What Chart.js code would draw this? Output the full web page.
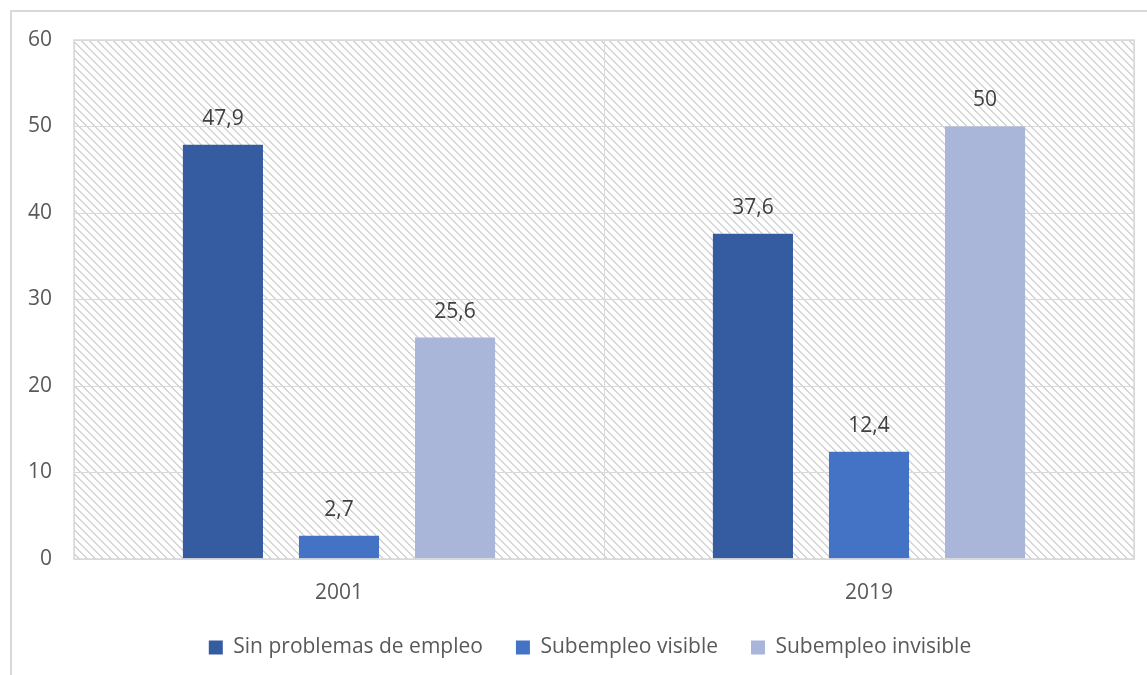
<!DOCTYPE html>
<html>
<head>
<meta charset="utf-8">
<script src="https://cdn.jsdelivr.net/npm/chart.js@4"></script>
<style>
  html, body { margin: 0; padding: 0; background: #fff; }
  #wrap { position: relative; width: 1147px; height: 675px; }
</style>
</head>
<body>
<div id="wrap"><canvas id="c" width="1147" height="675"></canvas></div>
<script>
const categories = ['2001', '2019'];
const seriesNames = ['Sin problemas de empleo', 'Subempleo visible', 'Subempleo invisible'];
const sinProblemas = [47.9, 37.6];
const subVisible = [2.7, 12.4];
const subInvisible = [25.6, 50];
const yTicks = [0, 10, 20, 30, 40, 50, 60];

const colors = ['#355BA0', '#4472C4', '#A9B5D9'];
const FONT = '"Open Sans", Lato, sans-serif';
const FS = 21;

function makePattern(ctx) {
  const p = document.createElement('canvas');
  p.width = 8; p.height = 8;
  const pc = p.getContext('2d');
  pc.fillStyle = '#ffffff';
  pc.fillRect(0, 0, 8, 8);
  pc.fillStyle = '#d4d4d4';
  for (let i = 0; i < 8; i++) {
    pc.fillRect(i, i, 1, 1);
    pc.fillRect((i + 1) % 8, i, 1, 1);
  }
  return ctx.createPattern(p, 'repeat');
}

const bgPlugin = {
  id: 'bg',
  afterLayout(chart) {
    if (chart.legend) {
      chart.legend.left = 46;
      if (chart.legend.adjustHitBoxes) chart.legend.adjustHitBoxes();
    }
  },
  beforeDraw(chart) {
    const ctx = chart.ctx;
    const a = chart.chartArea;
    ctx.save();
    ctx.fillStyle = '#d9d9d9';
    ctx.fillRect(10, 10, 2, chart.height - 10);
    ctx.fillRect(10, 10, chart.width - 10, 2);
    ctx.fillStyle = makePattern(ctx);
    ctx.fillRect(a.left, a.top, a.right - a.left, a.bottom - a.top);
    ctx.restore();
  },
  afterDraw(chart) {
    const ctx = chart.ctx;
    const a = chart.chartArea;
    ctx.save();
    ctx.strokeStyle = '#d9d9d9';
    ctx.lineWidth = 1.5;
    ctx.strokeRect(a.left, a.top, a.right - a.left, a.bottom - a.top);
    ctx.restore();
  }
};

const labelPlugin = {
  id: 'vals',
  afterDatasetsDraw(chart) {
    const ctx = chart.ctx;
    ctx.save();
    ctx.font = FS + 'px ' + FONT;
    ctx.fillStyle = '#404040';
    ctx.textAlign = 'center';
    ctx.textBaseline = 'middle';
    chart.data.datasets.forEach((ds, di) => {
      const meta = chart.getDatasetMeta(di);
      meta.data.forEach((bar, i) => {
        const txt = String(ds.data[i]).replace('.', ',');
        ctx.fillText(txt, bar.x, bar.y - 26);
      });
    });
    ctx.restore();
  }
};

const datasets = [sinProblemas, subVisible, subInvisible].map((d, i) => ({
  label: seriesNames[i],
  data: d,
  backgroundColor: colors[i],
  borderWidth: 0,
  categoryPercentage: 0.657,
  barPercentage: 0.69
}));

new Chart(document.getElementById('c'), {
  type: 'bar',
  data: { labels: categories, datasets },
  options: {
    responsive: false,
    animation: false,
    devicePixelRatio: 1,
    layout: { padding: { left: 0, right: 13, top: 40, bottom: 7 } },
    plugins: {
      tooltip: { enabled: false },
      legend: {
        position: 'bottom',
        labels: {
          boxWidth: 14, boxHeight: 14, padding: 33,
          color: '#595959',
          font: { family: FONT, size: FS }
        }
      }
    },
    scales: {
      x: {
        grid: { color: '#d9d9d9', lineWidth: 1, drawTicks: false, offset: true },
        border: { display: false },
        ticks: { color: '#595959', padding: 21, font: { family: FONT, size: FS } },
        afterFit(s) { s.height = 45; }
      },
      y: {
        min: 0, max: 60,
        afterBuildTicks(s) { s.ticks = yTicks.map(v => ({ value: v })); },
        grid: { color: '#d9d9d9', lineWidth: 1, drawTicks: false },
        border: { display: false },
        ticks: { color: '#595959', padding: 22, font: { family: FONT, size: FS } },
        afterFit(s) { s.width = 74; }
      }
    }
  },
  plugins: [bgPlugin, labelPlugin]
});
</script>
</body>
</html>
